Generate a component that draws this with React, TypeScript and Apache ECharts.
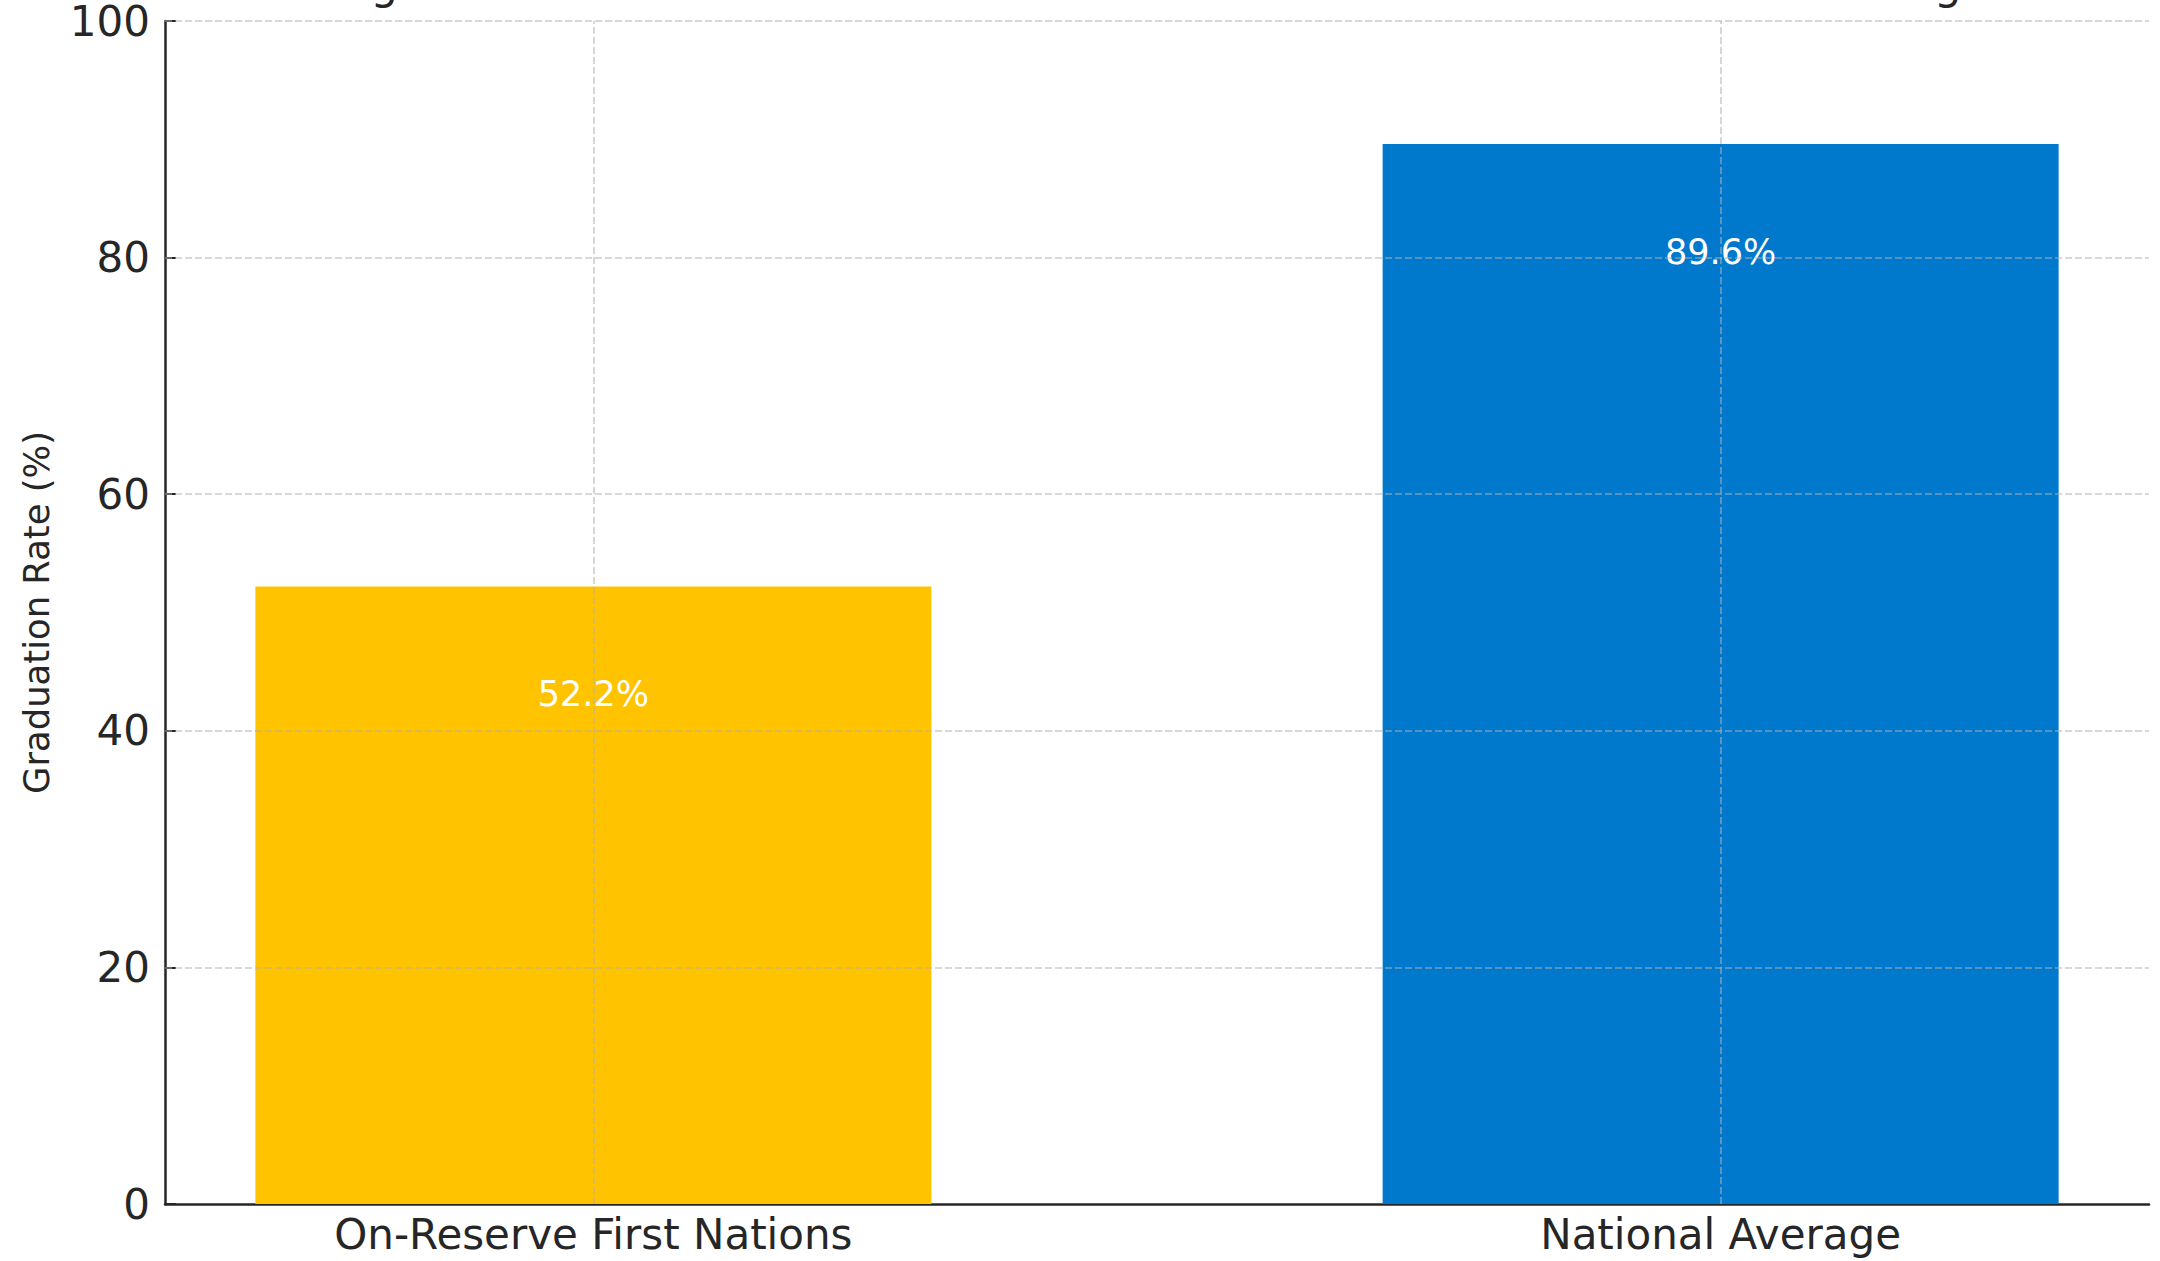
import React, { useEffect, useRef } from "react";
import * as echarts from "echarts";

const categories = ["On-Reserve First Nations", "National Average"];
const values = [52.2, 89.6];
const barColors = ["#FFC300", "#0079CC"];
const yTicks = [0, 20, 40, 60, 80, 100];
const titleText = "High School Graduation Rates: On-Reserve First Nations vs National Average";
const yAxisTitle = "Graduation Rate (%)";

const FONT = "DejaVu Sans";
const INK = "#262626";

export default function App() {
  const ref = useRef<HTMLDivElement>(null);
  useEffect(() => {
    if (!ref.current) return;
    const chart = echarts.init(ref.current, undefined, { renderer: "svg" });
    const gridLine = {
      type: [7, 3] as any,
      color: "rgba(176,176,176,0.65)",
      width: 1.6,
    };
    const markData: any[] = [];
    yTicks.filter((v) => v > 0).forEach((v) => markData.push({ yAxis: v }));
    categories.forEach((_, i) => markData.push({ xAxis: i }));

    chart.setOption({
      animation: false,
      backgroundColor: "#ffffff",
      textStyle: { fontFamily: FONT },
      graphic: [
        {
          type: "text",
          x: 1157,
          y: -16,
          silent: true,
          style: {
            text: titleText,
            fontFamily: FONT,
            fontSize: 43.4,
            fill: INK,
            textAlign: "center",
            textVerticalAlign: "middle",
          },
        },
      ],
      grid: { left: 165, right: 11, top: 20.7, bottom: 57, containLabel: false },
      xAxis: {
        type: "value",
        min: -0.38,
        max: 1.38,
        axisLine: { show: true, onZero: false, lineStyle: { color: INK, width: 2.5 } },
        axisTick: { show: true, inside: true, length: 11, customValues: [0, 1], lineStyle: { color: INK, width: 2 } },
        axisLabel: {
          customValues: [0, 1],
          formatter: (v: number) => categories[Math.round(v)] ?? "",
          fontFamily: FONT,
          fontSize: 42,
          color: INK,
          margin: 9,
        },
        splitLine: { show: false },
      },
      yAxis: {
        type: "value",
        min: 0,
        max: 100,
        interval: 20,
        name: yAxisTitle,
        nameLocation: "middle",
        nameGap: 111,
        nameTextStyle: { fontFamily: FONT, fontSize: 35.4, color: INK },
        axisLine: { show: true, onZero: false, lineStyle: { color: INK, width: 2.5 } },
        axisTick: { show: true, inside: true, length: 11, lineStyle: { color: INK, width: 2 } },
        axisLabel: { fontFamily: FONT, fontSize: 42, color: INK, margin: 15 },
        splitLine: { show: false },
      },
      series: [
        {
          type: "bar",
          barWidth: 676,
          data: values.map((v, i) => ({
            value: [i, v],
            itemStyle: { color: barColors[i] },
          })),
          label: {
            show: true,
            position: "insideTop",
            distance: 90,
            formatter: (p: any) => `${p.value[1].toFixed(1)}%`,
            fontFamily: FONT,
            fontSize: 35,
            color: "#ffffff",
          },
          markLine: {
            silent: true,
            symbol: ["none", "none"],
            label: { show: false },
            lineStyle: gridLine,
            emphasis: { disabled: true },
            data: markData,
          },
        },
      ],
    });
    return () => chart.dispose();
  }, []);
  return (
    <div
      ref={ref}
      style={{ position: "fixed", left: 0, top: 0, width: 2160, height: 1261, background: "#fff" }}
    />
  );
}
